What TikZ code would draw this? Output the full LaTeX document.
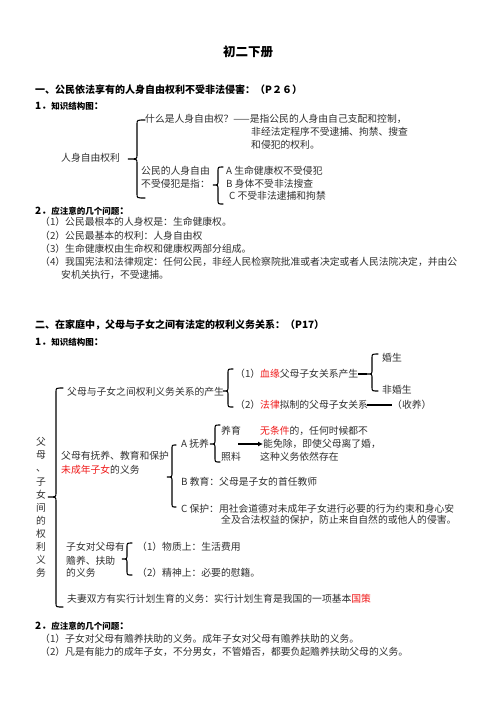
\documentclass[tikz,border=0pt]{standalone}
\usepackage{fontspec}
\setmainfont{Noto Sans CJK SC}
\usetikzlibrary{arrows.meta}
\definecolor{txt}{HTML}{303030}
\definecolor{rd}{HTML}{F01818}
\newcommand\rt[1]{{\color{rd}#1}}
\newcommand\kw[1]{{\fontsize{8.5}{10}\selectfont #1}}
% name, hookx, vx, tipx, topy, tipy, boty
\newcommand\cbrace[7]{%
  \coordinate (#1) at (#4,#6);
  \draw[bracestyle] (#2,#5) .. controls (#3,#5) .. (#3,#5+4)
     -- (#3,#6-4) .. controls (#3,#6) .. (#4,#6)
     .. controls (#3,#6) .. (#3,#6+4)
     -- (#3,#7-4) .. controls (#3,#7) .. (#2,#7);}
\begin{document}
\begin{tikzpicture}[x=1pt,y=-1pt,
  t/.style={anchor=west, inner sep=0pt, text=txt, font=\fontsize{9.8}{12}\selectfont},
  hd/.style={anchor=west, inner sep=0pt, text=black, font=\bfseries\fontsize{10}{12}\selectfont},
  bracestyle/.style={line width=1.1pt, line cap=round, draw=black},
  conn/.style={line width=1.1pt, draw=black},
  arr/.style={line width=1.1pt, draw=black, -{Latex[length=5pt,width=5pt]}}]
\useasboundingbox[fill=white] (0,0) rectangle (496,702);

% title
\node[inner sep=0pt, font=\bfseries\fontsize{12.5}{14}\selectfont] (title) at (248,52) {初二下册};

% section 1
\node[hd] (h1) at (35,90) {一、公民依法享有的人身自由权利不受非法侵害：（P２６）};
\node[hd] (s11) at (35,106) {1．\kw{知识结构图}：};
\node[t] (q1) at (145,119) {什么是人身自由权？——是指公民的人身由自己支配和控制，};
\node[t] (q2) at (251,132) {非经法定程序不受逮捕、拘禁、搜查};
\node[t] (q3) at (251,145) {和侵犯的权利。};
\node[t] (rs) at (61,158) {人身自由权利};
\cbrace{b1}{145}{137}{128}{120}{159}{198}
\node[t] (gm1) at (141,171) {公民的人身自由};
\node[t] (gm2) at (141,184) {不受侵犯是指：};
\cbrace{b2}{223}{218}{213}{167}{185}{204}
\node[t] (ga) at (226,171) {A 生命健康权不受侵犯};
\node[t] (gb) at (226,184) {B 身体不受非法搜查};
\node[t] (gc) at (229,196) {C 不受非法逮捕和拘禁};
\node[hd] (s12) at (35,211) {2．\kw{应注意的几个问题}：};
\node[t] (p1) at (40,222) {（1）公民最根本的人身权是：生命健康权。};
\node[t] (p2) at (40,236) {（2）公民最基本的权利：人身自由权};
\node[t] (p3) at (40,249) {（3）生命健康权由生命权和健康权两部分组成。};
\node[t] (p4) at (40,262) {（4）我国宪法和法律规定：任何公民，非经人民检察院批准或者决定或者人民法院决定，并由公};
\node[t] (p4b) at (61,275) {安机关执行，不受逮捕。};

% section 2
\node[hd] (h2) at (35,325) {二、在家庭中，父母与子女之间有法定的权利义务关系：（P17）};
\node[hd] (s21) at (35,342) {1．\kw{知识结构图}：};

\node[t] (hs) at (382,358) {婚生};
\node[t] (fhs) at (382,390) {非婚生};
\node[t] (xy) at (235,374) {（1）\rt{血缘}父母子女关系产生};
\node[t] (fl) at (235,405) {（2）\rt{法律}拟制的父母子女关系};
\node[t] (sy) at (392,405) {（收养）};
\cbrace{b3}{378}{372}{367}{354}{374}{391}
\draw[conn] (xy.east) -- (b3);
\coordinate (fle) at (367,405);
\draw[conn] (fle) -- (sy.west);

\node[t] (cs) at (67,392) {父母与子女之间权利义务关系的产生};
\cbrace{b4}{233}{228}{223}{369}{391}{407}

\cbrace{b5}{63}{56}{48}{388}{497}{607}
\node[inner sep=0pt, text=txt, align=center, font=\fontsize{9.8}{13.1}\selectfont] (left) at (41,507.5)
  {父\\母\\、\\子\\女\\间\\的\\权\\利\\义\\务};

\node[t] (fy1) at (61,456) {父母有抚养、教育和保护};
\node[t] (fy2) at (61,470) {\rt{未成年子女}的义务};
\cbrace{b6}{176}{172}{167}{445}{477}{507}
\node[t] (fa) at (181,444) {A 抚养};
\cbrace{b7}{220}{215}{210}{425}{444}{462}
\node[t] (yy) at (221,431) {养育};
\node[t] (zl) at (221,457) {照料};
\node[t] (w1) at (260,431) {\rt{无条件}的，任何时候都不};
\node[t] (w2) at (263,444) {能免除，即使父母离了婚，};
\node[t] (w3) at (260,457) {这种义务依然存在};
\coordinate (ar1) at (238,444);
\draw[arr] (ar1) -- (w2.west);
\node[t] (fb) at (181,482) {B 教育：父母是子女的首任教师};
\node[t] (fc) at (181,509) {C 保护：用社会道德对未成年子女进行必要的行为约束和身心安};
\node[t] (fc2) at (221,520) {全及合法权益的保护，防止来自自然的或他人的侵害。};

\node[t] (zn1) at (66,547) {子女对父母有};
\node[t] (zn2) at (66,561) {赡养、扶助};
\node[t] (zn3) at (66,573) {的义务};
\cbrace{b8}{132}{127}{122}{543}{559}{575}
\node[t] (wz) at (137,547) {（1）物质上：生活费用};
\node[t] (js) at (137,573) {（2）精神上：必要的慰籍。};
\node[t] (fq) at (67,599) {夫妻双方有实行计划生育的义务：实行计划生育是我国的一项基本\rt{国策}};

\node[hd] (s22) at (35,626) {2．\kw{应注意的几个问题}：};
\node[t] (r1) at (40,639) {（1）子女对父母有赡养扶助的义务。成年子女对父母有赡养扶助的义务。};
\node[t] (r2) at (40,652) {（2）凡是有能力的成年子女，不分男女，不管婚否，都要负起赡养扶助父母的义务。};
\end{tikzpicture}
\end{document}
